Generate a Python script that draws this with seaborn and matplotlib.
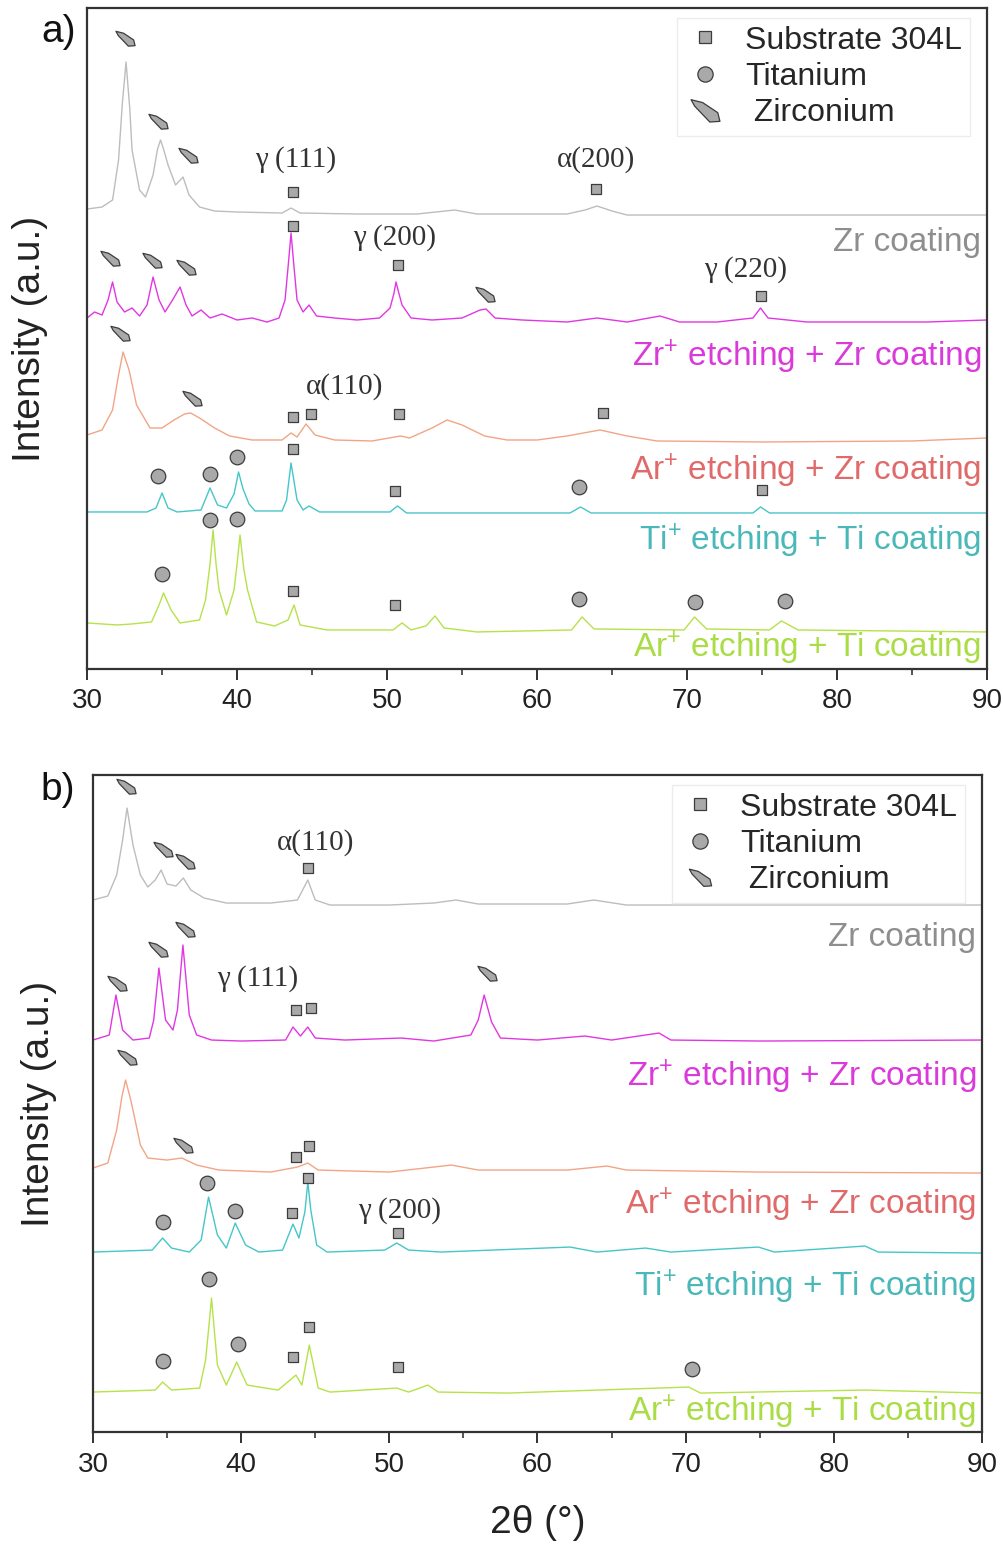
import numpy as np
import pandas as pd
import matplotlib.pyplot as plt
import seaborn as sns
from matplotlib.path import Path
from matplotlib.lines import Line2D
from matplotlib.ticker import MultipleLocator

# ------------------------------------------------------------
# Dados (2theta em graus, intensidade em u.a. já empilhada)
# ------------------------------------------------------------
samples = ["Zr coating",
           "Zr$^{+}$ etching + Zr coating",
           "Ar$^{+}$ etching + Zr coating",
           "Ti$^{+}$ etching + Ti coating",
           "Ar$^{+}$ etching + Ti coating"]

# ---- painel a) ----
a_zr_tth = [30.0, 31.0, 31.7, 32.1, 32.35, 32.6, 32.85, 33.0, 33.5, 33.9, 34.4, 34.7, 34.9, 35.1, 35.4,
            35.9, 36.4, 36.8, 37.5, 38.5, 40.0, 43.0, 43.6, 44.2, 48.0, 52.0, 54.5, 56.0, 62.0,
            63.2, 64.0, 65.0, 66.0, 75.0, 90.0]
a_zr_int = [460, 462, 469, 509, 565, 607, 560, 519, 479, 472, 494, 520, 529, 520, 504,
            484, 492, 474, 462, 458, 457, 456, 461, 456, 455, 455, 459, 455, 455,
            459, 463, 458, 454, 454, 454]

a_zrp_tth = [30.0, 30.5, 31.0, 31.4, 31.7, 32.0, 32.5, 33.0, 33.5, 34.0, 34.4, 34.8, 35.2, 35.7, 36.2,
             36.6, 37.0, 37.6, 38.2, 39.0, 40.0, 41.0, 42.0, 42.8, 43.2, 43.45, 43.6, 43.75, 44.0,
             44.4, 44.8, 45.3, 46.5, 48.0, 49.5, 50.2, 50.45, 50.6, 50.75, 51.0, 51.6, 53.0, 55.0,
             56.2, 56.6, 57.2, 59.0, 62.0, 64.0, 66.0, 68.2, 69.5, 72.0, 74.4, 74.9, 75.4, 78.0,
             82.0, 86.0, 90.0]
a_zrp_int = [351, 357, 354, 369, 387, 367, 357, 361, 353, 364, 392, 369, 357, 369, 382,
             364, 353, 359, 351, 355, 349, 351, 347, 351, 369, 410, 436, 410, 369,
             357, 364, 353, 351, 349, 351, 361, 375, 387, 378, 364, 351, 349, 351,
             359, 360, 351, 349, 347, 351, 347, 353, 347, 347, 351, 361, 351, 347,
             347, 347, 349]

a_arzr_tth = [30.0, 31.0, 31.7, 32.1, 32.4, 32.8, 33.3, 34.2, 35.0, 35.8, 36.5, 36.9, 37.5, 38.5, 39.5,
              41.0, 43.0, 43.6, 44.0, 44.6, 45.2, 46.5, 49.0, 50.9, 51.5, 53.0, 54.0, 55.0, 56.5,
              58.0, 60.0, 62.0, 64.2, 66.0, 68.0, 75.0, 85.0, 90.0]
a_arzr_int = [234, 239, 259, 294, 317, 299, 264, 241, 241, 249, 255, 256, 251, 241, 233,
              229, 229, 236, 232, 245, 234, 229, 228, 233, 231, 241, 249, 244, 233,
              229, 229, 233, 239, 233, 228, 227, 228, 231]

a_titi_tth = [30.0, 34.0, 34.6, 35.0, 35.4, 36.0, 37.6, 38.2, 38.7, 39.3, 39.8, 40.1, 40.4, 40.8, 41.2,
              43.0, 43.3, 43.6, 44.0, 44.4, 44.8, 45.5, 50.2, 50.7, 51.3, 62.2, 62.9, 63.6, 74.4,
              74.9, 75.5, 90.0]
a_titi_int = [157, 157, 161, 176, 161, 157, 159, 181, 164, 161, 175, 197, 180, 165, 158,
              158, 169, 206, 169, 159, 163, 157, 157, 163, 156, 156, 162, 156, 156,
              162, 156, 156]

a_arti_tth = [30.0, 32.0, 33.0, 34.3, 34.8, 35.1, 35.6, 36.2, 37.5, 37.9, 38.2, 38.4, 38.6, 38.8, 39.3,
              39.8, 40.0, 40.2, 40.45, 40.7, 41.3, 42.5, 43.4, 43.8, 44.2, 46.0, 50.4, 51.0, 51.6,
              52.6, 53.2, 53.8, 56.0, 62.3, 63.0, 63.8, 69.8, 70.5, 71.3, 75.5, 76.3, 77.4, 90.0]
a_arti_int = [46, 44, 45, 47, 64, 76, 59, 46, 49, 69, 105, 139, 105, 79, 54,
              79, 105, 134, 100, 79, 47, 43, 49, 64, 44, 39, 39, 46, 39,
              43, 53, 41, 37, 39, 52, 40, 39, 52, 40, 39, 48, 39, 37]

# ---- painel b) ----
b_zr_tth = [30.0, 31.0, 31.6, 32.0, 32.3, 32.7, 33.2, 33.7, 34.2, 34.6, 35.0, 35.6, 36.1, 36.6, 37.5,
            39.0, 42.0, 43.8, 44.5, 45.0, 46.0, 50.0, 53.0, 54.5, 56.0, 62.0, 63.8, 66.0, 75.0, 90.0]
b_zr_int = [532, 536, 557, 592, 624, 587, 557, 545, 552, 562, 548, 546, 554, 542, 534,
            529, 529, 532, 552, 532, 527, 527, 529, 532, 528, 528, 532, 527, 527, 527]

b_zrp_tth = [30.0, 31.1, 31.55, 32.0, 32.7, 33.8, 34.1, 34.45, 34.9, 35.4, 35.7, 36.07, 36.5, 37.0, 38.0,
             40.0, 43.0, 43.5, 44.0, 44.5, 45.0, 47.0, 50.8, 53.0, 55.5, 56.0, 56.4, 56.9, 57.5,
             60.0, 63.2, 65.0, 68.2, 69.0, 75.0, 90.0]
b_zrp_int = [392, 397, 437, 402, 392, 394, 412, 464, 412, 402, 422, 487, 417, 397, 392,
             391, 392, 405, 396, 405, 394, 392, 394, 391, 397, 412, 437, 410, 394,
             392, 396, 392, 399, 392, 391, 392]

b_arzr_tth = [30.0, 31.0, 31.6, 31.95, 32.2, 32.5, 32.7, 33.2, 33.7, 35.0, 36.0, 37.0, 38.5, 42.0, 43.8,
              44.5, 45.2, 50.0, 54.2, 56.0, 62.0, 64.7, 66.0, 75.0, 90.0]
b_arzr_int = [264, 269, 302, 335, 352, 335, 322, 287, 274, 272, 274, 267, 262, 260, 265,
              269, 262, 260, 267, 262, 262, 266, 262, 260, 259]

b_titi_tth = [30.0, 34.0, 34.7, 35.3, 36.5, 37.3, 37.8, 38.4, 39.0, 39.6, 40.3, 41.2, 42.8, 43.5, 43.9,
              44.3, 44.5, 44.7, 45.1, 45.8, 49.7, 50.5, 51.3, 53.5, 62.2, 64.0, 67.3, 69.0, 74.9,
              76.0, 82.1, 83.0, 90.0]
b_titi_int = [180, 182, 194, 184, 180, 192, 235, 197, 184, 209, 187, 180, 182, 208, 194,
              220, 250, 222, 187, 180, 182, 189, 182, 180, 185, 180, 184, 180, 185,
              180, 186, 180, 179]

b_arti_tth = [30.0, 34.2, 34.7, 35.3, 37.2, 37.6, 37.85, 38.0, 38.2, 38.4, 39.0, 39.7, 40.4, 42.5, 43.7,
              44.1, 44.6, 45.2, 46.0, 50.5, 51.3, 52.6, 53.3, 58.0, 70.2, 71.0, 82.1, 90.0]
b_arti_int = [40, 42, 50, 42, 44, 72, 110, 134, 100, 67, 47, 70, 47, 42, 57,
              47, 87, 44, 40, 44, 40, 47, 40, 39, 45, 39, 42, 39]

# marcadores de fase (2theta, altura)
a_sub_tth = [43.7, 63.9, 43.7, 50.7, 74.9, 43.7, 44.9, 50.8, 64.4, 43.7, 50.5, 75.0, 43.7, 50.5]
a_sub_int = [477, 480, 443, 404, 373, 252, 255, 255, 256, 220, 178, 179, 78, 64]
a_ti_tth = [34.7, 38.2, 40.0, 62.8, 35.0, 38.2, 40.0, 62.8, 70.5, 76.5]
a_ti_int = [193, 195, 212, 182, 95, 149, 150, 70, 67, 68]
a_zrm_tth = [32.5, 34.7, 36.7, 31.5, 34.3, 36.6, 56.5, 32.2, 37.0]
a_zrm_int = [631, 548, 514, 411, 409, 402, 375, 336, 271]

b_sub_tth = [44.5, 43.7, 44.7, 43.7, 44.6, 43.4, 44.5, 50.6, 43.5, 44.6, 50.6]
b_sub_int = [564, 422, 424, 275, 286, 219, 254, 199, 75, 105, 65]
b_ti_tth = [34.7, 37.7, 39.6, 34.7, 37.8, 39.8, 70.4]
b_ti_int = [210, 249, 221, 71, 153, 88, 63]
b_zrm_tth = [32.2, 34.7, 36.2, 31.6, 34.4, 36.2, 56.6, 32.3, 36.1]
b_zrm_int = [646, 583, 571, 449, 483, 503, 459, 375, 287]

# reflexoes indexadas
a_refl = ["γ (111)", "α(200)", "γ (200)", "γ (220)", "α(110)"]
a_refl_tth = [43.9, 63.9, 50.5, 73.9, 47.2]
a_refl_int = [509, 509, 431, 399, 282]
b_refl = ["α(110)", "γ (111)", "γ (200)"]
b_refl_tth = [45.0, 41.1, 50.7]
b_refl_int = [589, 453, 222]

# altura dos nomes das amostras
a_name_int = [427, 312, 198, 128, 21]
b_name_int = [495, 355, 227, 145, 20]

line_colors = ["#bdbdbd", "#e236e2", "#f2a585", "#45c6c8", "#b6e24a"]
text_colors = ["#8e8e8e", "#d93ad9", "#e06a6a", "#4ab8b8", "#a9dc45"]
fill, edge = "#a9a9a9", "#3c3c3c"

# marcador do Zr (losango inclinado)
zr_marker = Path([(-1.0, 0.75), (-0.2, 0.55), (0.85, -0.15), (1.0, -0.75), (0.3, -0.8),
                  (-0.75, 0.3), (-1.0, 0.75)],
                 [Path.MOVETO] + [Path.LINETO] * 5 + [Path.CLOSEPOLY])

# ------------------------------------------------------------
# Figura
# ------------------------------------------------------------
sns.set_theme(style="white")
plt.rcParams['font.family'] = ['Liberation Sans', 'DejaVu Sans']
plt.rcParams['mathtext.fontset'] = 'custom'
plt.rcParams['mathtext.rm'] = 'Liberation Sans'
plt.rcParams['mathtext.it'] = 'Liberation Sans'
plt.rcParams['mathtext.bf'] = 'Liberation Sans:bold'

fig = plt.figure(figsize=(10.04, 15.46), dpi=100)
ax_a = fig.add_axes([0.0867, 0.5673, 0.8964, 0.4275])
ax_b = fig.add_axes([0.0926, 0.0737, 0.8855, 0.4250])

panels = [
    (ax_a, [(a_zr_tth, a_zr_int), (a_zrp_tth, a_zrp_int), (a_arzr_tth, a_arzr_int),
            (a_titi_tth, a_titi_int), (a_arti_tth, a_arti_int)],
     (a_sub_tth, a_sub_int), (a_ti_tth, a_ti_int), (a_zrm_tth, a_zrm_int),
     (a_refl, a_refl_tth, a_refl_int), a_name_int, 661, -0.043, 13),
    (ax_b, [(b_zr_tth, b_zr_int), (b_zrp_tth, b_zrp_int), (b_arzr_tth, b_arzr_int),
            (b_titi_tth, b_titi_int), (b_arti_tth, b_arti_int)],
     (b_sub_tth, b_sub_int), (b_ti_tth, b_ti_int), (b_zrm_tth, b_zrm_int),
     (b_refl, b_refl_tth, b_refl_int), b_name_int, 657, -0.040, 10),
]

for ax, traces, sub, ti, zrm, refl, name_int, ymax, ylab_x, zr_leg in panels:
    for (tth, inten), lc in zip(traces, line_colors):
        sns.lineplot(x=tth, y=inten, ax=ax, color=lc, lw=1.0, estimator=None, sort=False)

    sns.scatterplot(x=sub[0], y=sub[1], ax=ax, marker='s', s=60, color=fill,
                    edgecolor=edge, linewidth=0.9, zorder=4)
    sns.scatterplot(x=ti[0], y=ti[1], ax=ax, marker='o', s=110, color=fill,
                    edgecolor=edge, linewidth=0.9, zorder=4)
    sns.scatterplot(x=zrm[0], y=zrm[1], ax=ax, marker=zr_marker, s=190, color=fill,
                    edgecolor=edge, linewidth=0.9, zorder=4)

    for txt, x, y in zip(*refl):
        ax.text(x, y, txt, ha='center', va='center', fontsize=21,
                family=['Liberation Serif', 'DejaVu Serif'], color='#333333')

    for name, y, tc in zip(samples, name_int, text_colors):
        ax.text(89.6, y, name, ha='right', va='center', fontsize=24, color=tc)

    handles = [Line2D([], [], ls='', marker='s', ms=9, mfc=fill, mec=edge, mew=0.9),
               Line2D([], [], ls='', marker='o', ms=11, mfc=fill, mec=edge, mew=0.9),
               Line2D([], [], ls='', marker=zr_marker, ms=zr_leg * 1.6, mfc=fill, mec=edge, mew=0.9)]
    leg = ax.legend(handles, ["Substrate 304L", "Titanium", " Zirconium"], loc='upper right',
                    bbox_to_anchor=(0.992, 1.0), fontsize=23, frameon=True, fancybox=False,
                    edgecolor='#ececec', framealpha=1, handletextpad=0.6, labelspacing=0.2,
                    borderpad=0.25, borderaxespad=0.3, handlelength=1.3)

    ax.set_xlim(30, 90)
    ax.set_ylim(0, ymax)
    ax.set_yticks([])
    ax.xaxis.set_major_locator(MultipleLocator(10))
    ax.xaxis.set_minor_locator(MultipleLocator(5))
    ax.tick_params(axis='x', which='major', direction='out', length=8, width=1.3,
                   labelsize=20, colors='#222222', bottom=True, pad=6)
    ax.tick_params(axis='x', which='minor', direction='out', length=4, width=1.1, bottom=True)
    for sp in ax.spines.values():
        sp.set_visible(True)
        sp.set_color('#333333')
        sp.set_linewidth(1.6)
    ax.set_ylabel("Intensity (a.u.)", fontsize=28, color='#222222')
    ax.yaxis.set_label_coords(ylab_x, 0.5)
    ax.set_xlabel("")

ax_b.set_xlabel("2θ (°)", fontsize=28, color='#222222', labelpad=20)

fig.text(0.058, 0.979, "a)", fontsize=28, ha='center', va='center', color='#111111')
fig.text(0.058, 0.489, "b)", fontsize=28, ha='center', va='center', color='#111111')

fig.savefig("out.png", dpi=100)
